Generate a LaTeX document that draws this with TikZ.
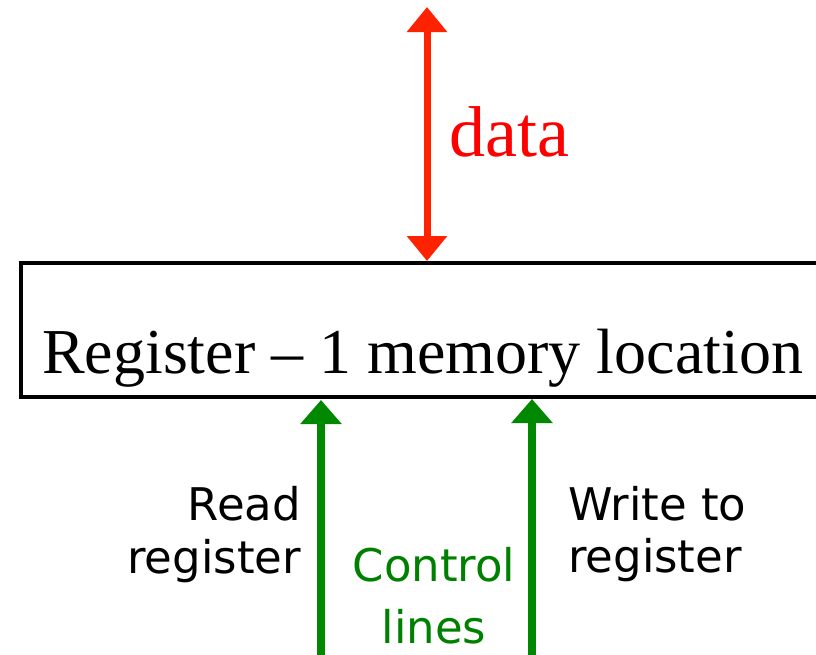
\documentclass[tikz,border=0pt]{standalone}
\usepackage{fontspec}
\setmainfont{Liberation Serif}
\newfontfamily\labelfont{DejaVu Sans}
\usetikzlibrary{arrows.meta}
\definecolor{arrowred}{RGB}{255,34,0}
\definecolor{datared}{RGB}{255,0,0}
\definecolor{ctrlgreen}{RGB}{0,136,0}
\definecolor{textgreen}{RGB}{0,128,0}
\tikzset{
  regbox/.style={draw=black, line width=4pt},
  dataarrow/.style={draw=arrowred, line width=7pt, {Triangle[width=39pt,length=25pt]}-{Triangle[width=39pt,length=25pt]}},
  ctrlarrow/.style={draw=ctrlgreen, line width=8pt, -{Triangle[width=40pt,length=24pt]}},
  lbl/.style={font=\labelfont\fontsize{45}{53}\selectfont, inner sep=0pt},
  serif/.style={inner sep=0pt}
}
\begin{document}
\begin{tikzpicture}[x=1pt,y=-1pt]
\useasboundingbox (0,0) rectangle (816,654);
\clip (0,0) rectangle (816,654);
% register box
\draw[regbox] (21,263) rectangle (840,397);
\coordinate (regtop) at (427,261);
\coordinate (datatop) at (427,7);
\coordinate (rdtip) at (321,400);
\coordinate (wrtip) at (532,399);
\coordinate (rdfoot) at (321,660);
\coordinate (wrfoot) at (532,660);
\node[serif, anchor=base west, font=\fontsize{64}{72}\selectfont] (reg) at (42,373) {Register -- 1 memory location};
% data arrow
\draw[dataarrow] (datatop) -- (regtop);
\node[serif, anchor=base west, text=datared, font=\fontsize{72}{80}\selectfont] (data) at (449,156) {data};
% control lines
\draw[ctrlarrow] (rdfoot) -- (rdtip);
\draw[ctrlarrow] (wrfoot) -- (wrtip);
\node[lbl, anchor=base east] (read1) at (301,520) {Read};
\node[lbl, anchor=base east] (read2) at (301,573) {register};
\node[lbl, anchor=base, text=textgreen] (ctl1) at (434,581) {Control};
\node[lbl, anchor=base, text=textgreen] (ctl2) at (434,643) {lines};
\node[lbl, anchor=base west] (wr1) at (568,520) {Write to};
\node[lbl, anchor=base west] (wr2) at (568,572) {register};
\end{tikzpicture}
\end{document}
